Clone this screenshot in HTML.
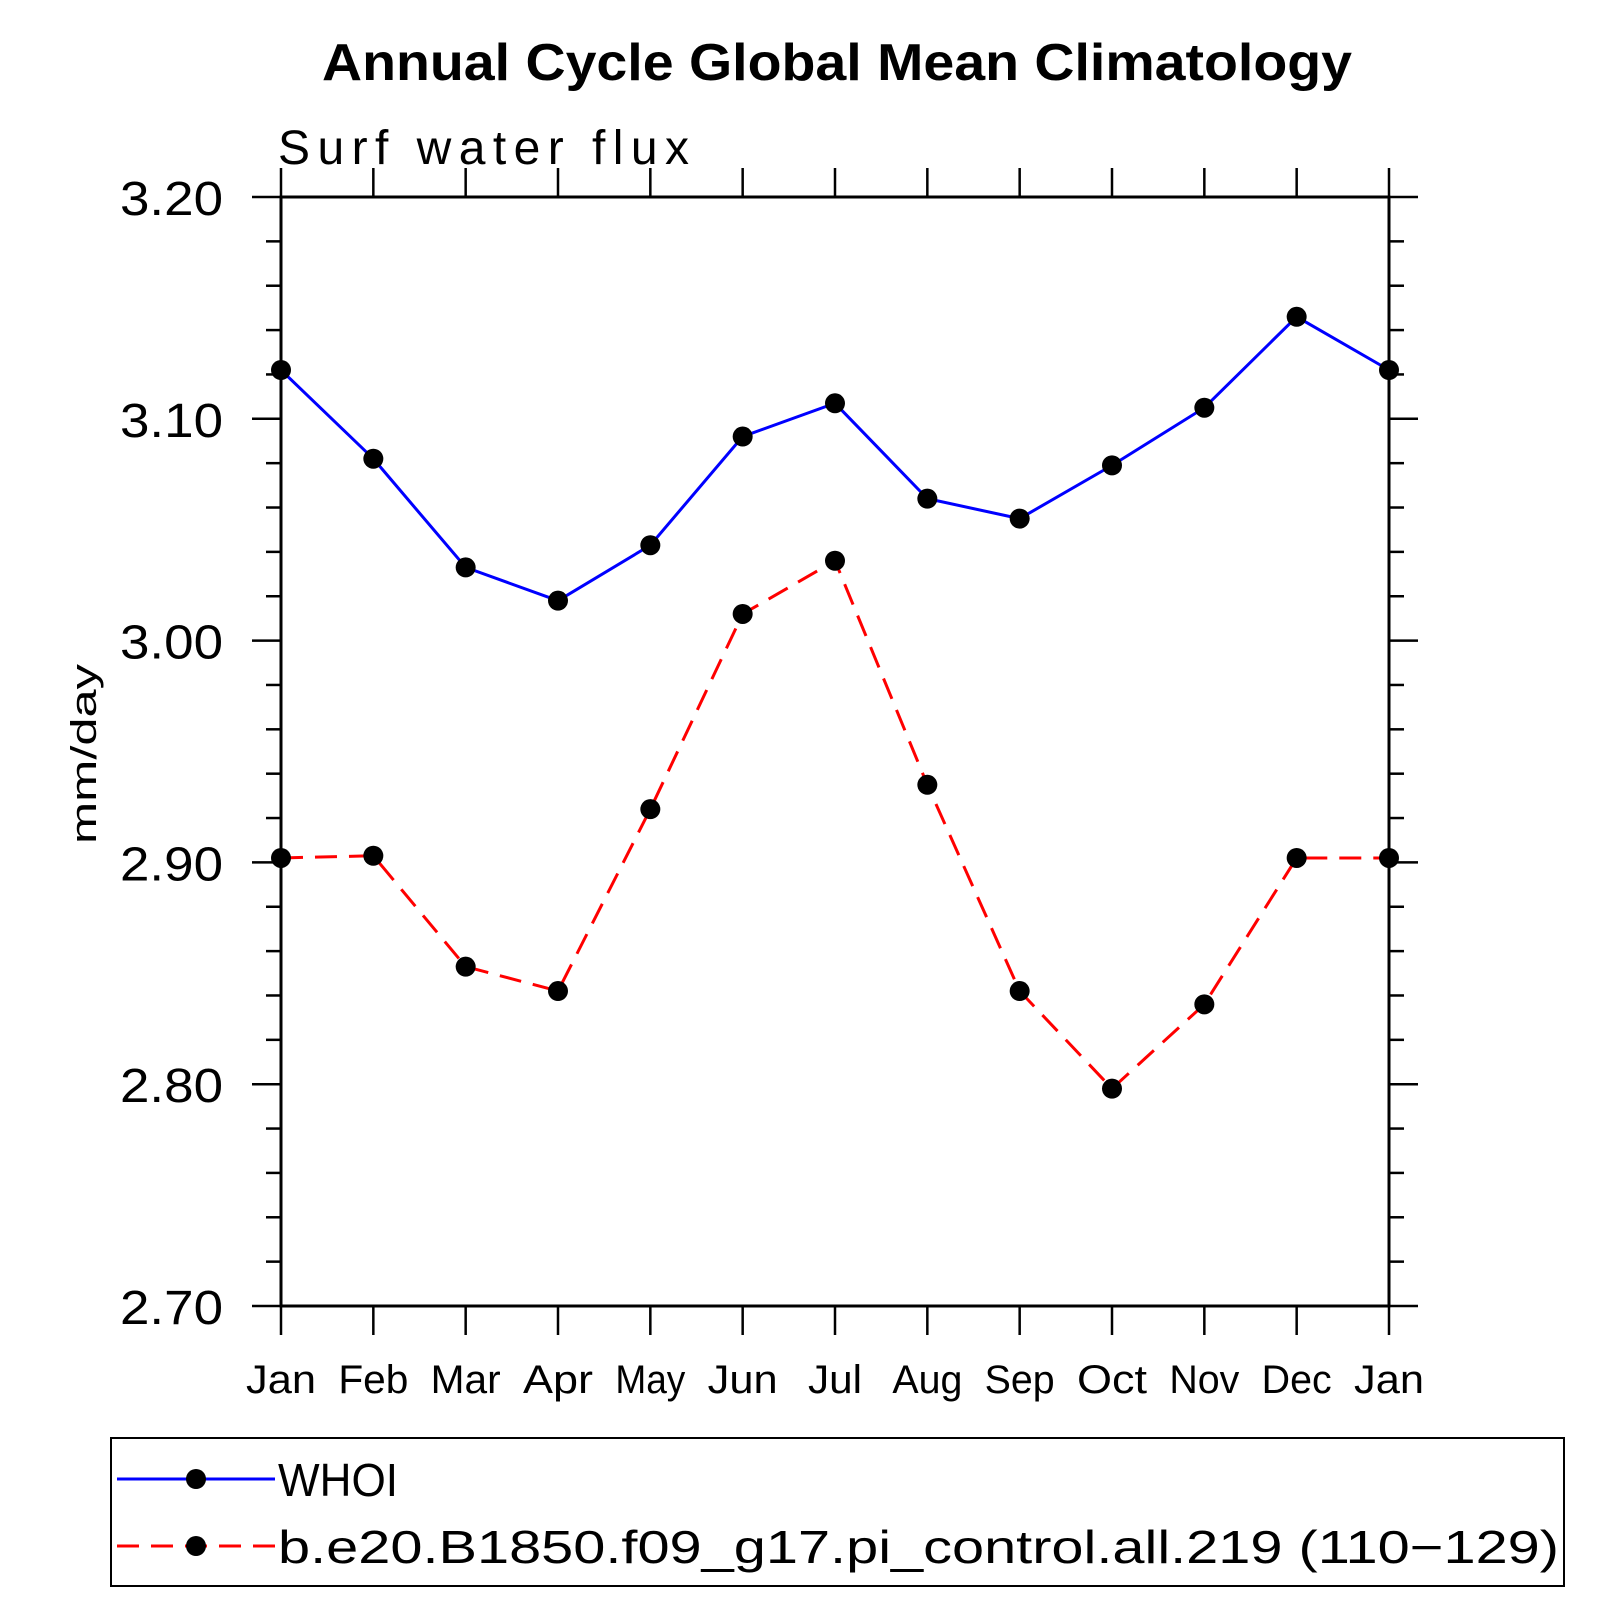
<!DOCTYPE html>
<html><head><meta charset="utf-8"><style>
html,body{margin:0;padding:0;background:#fff}
svg{display:block}
text{font-family:"Liberation Sans",sans-serif}
</style></head><body>
<svg id="chart" width="1619" height="1619" viewBox="0 0 1619 1619" xmlns="http://www.w3.org/2000/svg">
<text x="837" y="80" text-anchor="middle" font-size="52" font-weight="bold" textLength="1030" lengthAdjust="spacingAndGlyphs">Annual Cycle Global Mean Climatology</text>
<text x="278" y="164" font-size="48" font-weight="300" textLength="411" lengthAdjust="spacing">Surf water flux</text>
<text transform="translate(96,754) rotate(-90)" text-anchor="middle" font-size="36" textLength="180" lengthAdjust="spacingAndGlyphs">mm/day</text>
<g id="grid"></g>
<g id="series"></g>
<g>
<rect x="111" y="1438" width="1453" height="148" fill="none" stroke="#000" stroke-width="2"/>
<g>
<line x1="117" y1="1479" x2="275" y2="1479" stroke="#0000ff" stroke-width="3"/>
<circle cx="196" cy="1479" r="10"/>
<text x="278" y="1496" font-size="46" textLength="120" lengthAdjust="spacingAndGlyphs">WHOI</text>
</g>
<g>
<line x1="117" y1="1546" x2="275" y2="1546" stroke="#ff0000" stroke-width="3" stroke-dasharray="22,12"/>
<circle cx="196" cy="1546" r="10"/>
<text x="278" y="1563" font-size="46" textLength="1281" lengthAdjust="spacingAndGlyphs">b.e20.B1850.f09_g17.pi_control.all.219 (110−129)</text>
</g>
</g>
</svg>
<script>
const months = ["Jan","Feb","Mar","Apr","May","Jun","Jul","Aug","Sep","Oct","Nov","Dec","Jan"];
const whoiValues = [3.122,3.082,3.033,3.018,3.043,3.092,3.107,3.064,3.055,3.079,3.105,3.146,3.122];
const modelValues = [2.902,2.903,2.853,2.842,2.924,3.012,3.036,2.935,2.842,2.798,2.836,2.902,2.902];
const yTickLabels = ["2.70","2.80","2.90","3.00","3.10","3.20"];

const NS="http://www.w3.org/2000/svg";
const L=281,R=1389,T=197,B=1306,YMIN=2.70,YMAX=3.20;
const xs=i=>L+(R-L)*i/(months.length-1);
const ys=v=>B-(v-YMIN)/(YMAX-YMIN)*(B-T);
function mk(tag,attrs,parent){const e=document.createElementNS(NS,tag);for(const k in attrs)e.setAttribute(k,attrs[k]);parent.appendChild(e);return e;}
const g=document.getElementById('grid');
const s=document.getElementById('series');
const fr=mk('rect',{x:L,y:T,width:R-L,height:B-T,fill:'none',stroke:'#000','stroke-width':3},g);


for(let k=0;k<=25;k++){
  const v=YMIN+k*0.02, y=ys(v), major=k%5===0;
  const t1=mk('line',{x1:L-(major?29:15),y1:y,x2:L,y2:y,stroke:'#000','stroke-width':2.5},g);
  
  
  const t2=mk('line',{x1:R,y1:y,x2:R+(major?29:15),y2:y,stroke:'#000','stroke-width':2.5},g);
  
  
}
yTickLabels.forEach(lbl=>{
  const t=mk('text',{x:223,y:ys(parseFloat(lbl))+18,'text-anchor':'end','font-size':48,textLength:103,lengthAdjust:'spacingAndGlyphs'},g);
  t.textContent=lbl;
  
  
});
months.forEach((m,i)=>{
  const x=xs(i);
  const a=mk('line',{x1:x,y1:T-29,x2:x,y2:T,stroke:'#000','stroke-width':2.5},g);
  
  
  const b=mk('line',{x1:x,y1:B,x2:x,y2:B+29,stroke:'#000','stroke-width':2.5},g);
  
  
  const t=mk('text',{x:x,y:1393,'text-anchor':'middle','font-size':40,textLength:m==='Jul'?54:70,lengthAdjust:'spacingAndGlyphs'},g);
  t.textContent=m;
  
  
});
function series(vals,color,dash,name){
  const pts=vals.map((v,i)=>xs(i)+','+ys(v)).join(' ');
  const pl=mk('polyline',{points:pts,fill:'none',stroke:color,'stroke-width':3},s);
  if(dash)pl.setAttribute('stroke-dasharray',dash);
  
  
  vals.forEach((v,i)=>{
    const c=mk('circle',{cx:xs(i),cy:ys(v),r:10,fill:'#000'},s);
    
    
  });
}
series(whoiValues,'#0000ff',null,'whoi');
series(modelValues,'#ff0000','22,12','model');
</script>
</body></html>
